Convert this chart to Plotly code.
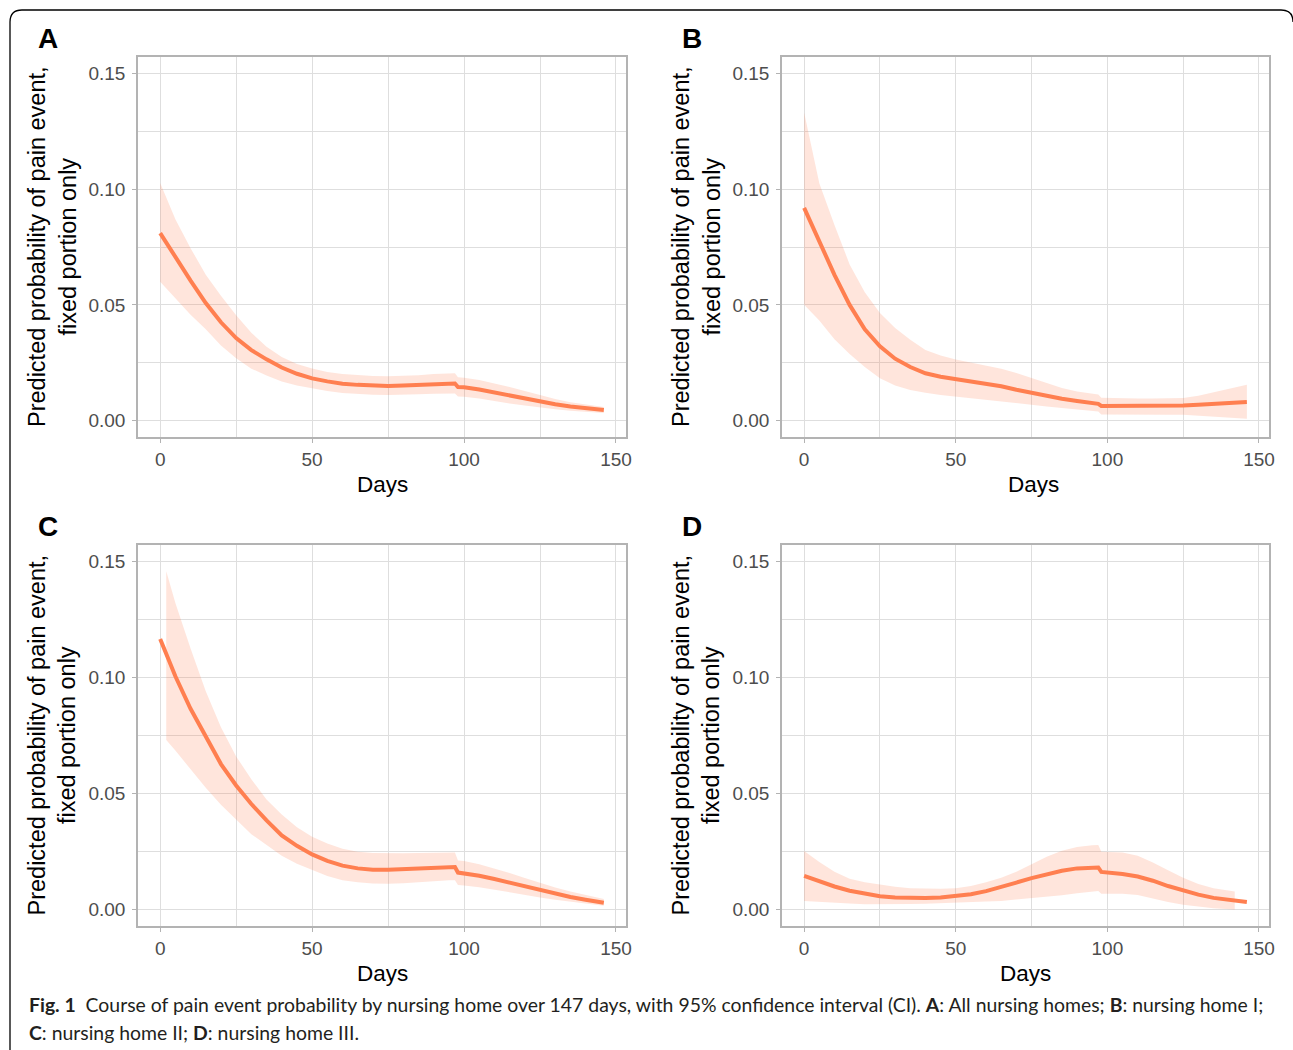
import plotly.graph_objects as go

W, H = 1293, 1050

# ---------------- data ----------------
days = [0, 5, 10, 15, 20, 25, 30, 35, 40, 45, 50, 55, 60, 65, 70, 75, 80, 85, 90, 95,
        97, 98, 100, 105, 110, 115, 120, 125, 130, 135, 140, 146]

fit_A = [0.081, 0.0705, 0.0605, 0.0508, 0.0425, 0.0357, 0.0305, 0.0265, 0.0230, 0.0203,
         0.0183, 0.0170, 0.0160, 0.0155, 0.0151, 0.0150, 0.0152, 0.0155, 0.0159, 0.0161,
         0.0161, 0.0146, 0.0145, 0.0135, 0.0122, 0.0108, 0.0095, 0.0082, 0.0071, 0.0062,
         0.0055, 0.0047]
upper_A = [0.1026, 0.087, 0.0745, 0.063, 0.054, 0.0455, 0.038, 0.032, 0.0275, 0.0245,
           0.0226, 0.021, 0.0202, 0.0197, 0.0193, 0.0192, 0.0193, 0.0197, 0.0202, 0.0205,
           0.0205, 0.0188, 0.0186, 0.0176, 0.0162, 0.0146, 0.0128, 0.011, 0.0094, 0.008,
           0.007, 0.006]
lower_A = [0.060, 0.053, 0.0458, 0.0395, 0.0325, 0.027, 0.0225, 0.0195, 0.017, 0.0152,
           0.014, 0.0128, 0.012, 0.0115, 0.0112, 0.0111, 0.0112, 0.0114, 0.0117, 0.0118,
           0.0118, 0.0105, 0.0104, 0.0096, 0.0086, 0.0075, 0.0066, 0.0057, 0.005, 0.0043,
           0.0038, 0.0034]

fit_B = [0.0919, 0.0775, 0.063, 0.050, 0.0395, 0.0321, 0.0268, 0.0232, 0.0205, 0.019,
         0.018, 0.0171, 0.0162, 0.0149, 0.0134, 0.012, 0.0107, 0.0095, 0.0085, 0.0077,
         0.0073, 0.0064, 0.0064, 0.0063, 0.0063, 0.0064, 0.0065, 0.0066, 0.0069, 0.0073,
         0.0077, 0.0081]
upper_B = [0.133, 0.1025, 0.0845, 0.0675, 0.0555, 0.0465, 0.040, 0.035, 0.0305, 0.0282,
           0.0264, 0.025, 0.0239, 0.0225, 0.0206, 0.0184, 0.0163, 0.0142, 0.0126, 0.0115,
           0.0113, 0.0099, 0.0098, 0.0097, 0.0096, 0.0096, 0.0097, 0.0098, 0.0108, 0.0122,
           0.0138, 0.0156]
lower_B = [0.0501, 0.0433, 0.0352, 0.0288, 0.0232, 0.0184, 0.0152, 0.0133, 0.0121, 0.0111,
           0.0102, 0.0095, 0.0089, 0.0083, 0.0076, 0.0069, 0.0062, 0.0055, 0.0048, 0.0043,
           0.0040, 0.0027, 0.0026, 0.0026, 0.0026, 0.0026, 0.0026, 0.0026, 0.0022, 0.0017,
           0.0013, 0.0009]

fit_C = [0.1165, 0.1005, 0.0865, 0.0742, 0.0627, 0.0535, 0.0455, 0.0385, 0.032, 0.0275,
         0.0238, 0.021, 0.019, 0.0178, 0.0172, 0.0172, 0.0175, 0.0179, 0.0182, 0.0184,
         0.0184, 0.0160, 0.0157, 0.0146, 0.0132, 0.0116, 0.0099, 0.0083, 0.0068, 0.0055,
         0.0043, 0.0030]
days_ci_C = [2, 5, 10, 15, 20, 25, 30, 35, 40, 45, 50, 55, 60, 65, 70, 75, 80, 85, 90, 95,
             97, 98, 100, 105, 110, 115, 120, 125, 130, 135, 140, 146]
upper_C = [0.1457, 0.132, 0.1125, 0.094, 0.0785, 0.066, 0.0562, 0.0475, 0.041, 0.0355,
           0.0314, 0.0285, 0.0262, 0.0250, 0.0244, 0.0242, 0.0243, 0.0244, 0.0245, 0.0246,
           0.0246, 0.0212, 0.021, 0.0196, 0.0178, 0.0158, 0.0137, 0.0116, 0.0096, 0.0078,
           0.0062, 0.0046]
lower_C = [0.0731, 0.0685, 0.0607, 0.0525, 0.0452, 0.0388, 0.0325, 0.028, 0.0232, 0.0198,
           0.017, 0.0145, 0.0127, 0.0118, 0.0113, 0.0112, 0.0114, 0.0118, 0.0123, 0.0127,
           0.0127, 0.0106, 0.0104, 0.0097, 0.0087, 0.0076, 0.0064, 0.0053, 0.0043, 0.0034,
           0.0026, 0.0017]

fit_D = [0.0146, 0.0122, 0.0100, 0.0082, 0.0068, 0.0058, 0.0053, 0.0051, 0.0051, 0.0053,
         0.0058, 0.0067, 0.0080, 0.0097, 0.0117, 0.0136, 0.0154, 0.0168, 0.0178, 0.0182,
         0.0182, 0.0163, 0.0161, 0.0154, 0.0143, 0.0125, 0.0102, 0.0082, 0.0065, 0.0051,
         0.0041, 0.0033]
days_ci_D = [0, 5, 10, 15, 20, 25, 30, 35, 40, 45, 50, 55, 60, 65, 70, 75, 80, 85, 90, 95,
             97, 98, 100, 105, 110, 115, 120, 125, 130, 135, 142]
upper_D = [0.0253, 0.0205, 0.0163, 0.0133, 0.0118, 0.0108, 0.0099, 0.0093, 0.0091, 0.0090,
           0.0092, 0.0102, 0.0118, 0.0138, 0.0163, 0.0195, 0.0228, 0.0254, 0.0270, 0.0278,
           0.0279, 0.0250, 0.0249, 0.0246, 0.0232, 0.0203, 0.0170, 0.0138, 0.0111, 0.0093,
           0.0079]
lower_D = [0.0038, 0.0035, 0.0031, 0.0027, 0.0024, 0.0023, 0.0024, 0.0025, 0.0026, 0.0027,
           0.0029, 0.0032, 0.0035, 0.0038, 0.0042, 0.0049, 0.0056, 0.0062, 0.0071, 0.0079,
           0.0081, 0.0069, 0.0069, 0.0069, 0.0063, 0.0048, 0.0033, 0.0021, 0.0012, 0.0006,
           0.0001]

x_ticks = [0, 50, 100, 150]
y_ticks = [0.00, 0.05, 0.10, 0.15]
panel_labels = ["A", "B", "C", "D"]
x_title = "Days"
y_title = "Predicted probability of pain event,<br>fixed portion only"
caption_1 = ("<b>Fig. 1</b>  Course of pain event probability by nursing home over 147 days, "
             "with 95% confidence interval (CI). <b>A</b>: All nursing homes; <b>B</b>: nursing home I;")
caption_2 = "<b>C</b>: nursing home II; <b>D</b>: nursing home III."

panels = [
    (days, fit_A, days, upper_A, lower_A),
    (days, fit_B, days, upper_B, lower_B),
    (days, fit_C, days_ci_C, upper_C, lower_C),
    (days, fit_D, days_ci_D, upper_D, lower_D),
]

# ---------------- layout geometry (pixels) ----------------
LINE = "#FF7F50"
FILL = "rgba(255,127,80,0.2)"
GRID = "#DEDEDE"
BORDER = "#B3B3B3"
TXT = "#4D4D4D"
FONT = "Liberation Sans, Arial, sans-serif"

# (left, right, top, bottom) of each plot panel in pixels
boxes = [(138, 626, 57, 437), (782, 1269, 57, 437),
         (138, 626, 545, 926), (782, 1269, 545, 926)]
letter_pos = [(48, 38), (692, 38), (48, 526), (692, 526)]
days_title_x = [382, 1033, 382, 1025]
ytitle_x = [52, 696, 52, 696]


def px(x):
    return x / W


def py(y):
    return 1 - y / H


fig = go.Figure()
layout = dict(
    template="none",
    width=W, height=H, margin=dict(l=0, r=0, t=0, b=0, pad=0, autoexpand=False),
    paper_bgcolor="white", plot_bgcolor="white", showlegend=False,
    font=dict(family=FONT, color=TXT),
)
annotations = []

for i, (dx, fit, dci, up, lo) in enumerate(panels):
    n = "" if i == 0 else str(i + 1)
    xa, ya = "x" + n, "y" + n
    fig.add_trace(go.Scatter(
        x=list(dci) + list(dci)[::-1], y=list(up) + list(lo)[::-1],
        fill="toself", fillcolor=FILL, line=dict(width=0), mode="lines",
        hoverinfo="skip", xaxis=xa, yaxis=ya))
    fig.add_trace(go.Scatter(
        x=dx, y=fit, mode="lines", line=dict(color=LINE, width=4),
        xaxis=xa, yaxis=ya))
    l, r, t, b = boxes[i]
    common = dict(
        showgrid=True, gridcolor=GRID, gridwidth=1.3, zeroline=False, automargin=False,
        showline=True, mirror=True, linecolor=BORDER, linewidth=1.5,
        ticks="outside", ticklen=4, tickwidth=1.3, tickcolor=BORDER,
        tickfont=dict(family=FONT, size=19, color=TXT),
    )
    layout["xaxis" + n] = dict(
        common, domain=[px(l), px(r)], range=[-7.3, 153.3],
        tickvals=x_ticks, ticktext=[str(v) for v in x_ticks],
        minor=dict(tickvals=[25, 75, 125], showgrid=True, gridcolor=GRID, gridwidth=0.7, ticks=""),
        anchor=ya,
    )
    layout["yaxis" + n] = dict(
        common, domain=[py(b), py(t)], range=[-0.007, 0.157],
        tickvals=y_ticks, ticktext=["%.2f" % v for v in y_ticks],
        minor=dict(tickvals=[0.025, 0.075, 0.125], showgrid=True, gridcolor=GRID, gridwidth=0.7, ticks=""),
        anchor=xa, ticklabelstandoff=3,
    )
    lx, ly = letter_pos[i]
    annotations.append(dict(
        text="<b>%s</b>" % panel_labels[i], x=px(lx), y=py(ly), xref="paper", yref="paper",
        xanchor="center", yanchor="middle", showarrow=False,
        font=dict(family=FONT, size=28, color="black")))
    annotations.append(dict(
        text=x_title, x=px(days_title_x[i]), y=py(b + 47), xref="paper", yref="paper",
        xanchor="center", yanchor="middle", showarrow=False,
        font=dict(family=FONT, size=22.5, color="black")))
    annotations.append(dict(
        text=y_title, x=px(ytitle_x[i]), y=py((t + b) / 2), xref="paper", yref="paper",
        xanchor="center", yanchor="middle", showarrow=False, textangle=-90,
        font=dict(family=FONT, size=23.5, color="black")))

CAP_FONT = "Lato, Open Sans, sans-serif"
annotations.append(dict(
    text=caption_1, x=px(27), y=py(1004), xref="paper", yref="paper",
    xanchor="left", yanchor="middle", showarrow=False, align="left",
    font=dict(family=CAP_FONT, size=19.4, color="#231F20")))
annotations.append(dict(
    text=caption_2, x=px(27), y=py(1032), xref="paper", yref="paper",
    xanchor="left", yanchor="middle", showarrow=False, align="left",
    font=dict(family=CAP_FONT, size=19.4, color="#231F20")))

layout["annotations"] = annotations

# rounded outer frame (top and left edges visible)
rad = 12
path = "M {x0} {y0} L {x0} {y1} Q {x0} {yt} {x2} {yt} L {x3} {yt} Q {xr} {yt} {xr} {y1}".format(
    x0=px(10), y0=py(1050), y1=py(10 + rad), yt=py(10), x2=px(10 + rad),
    x3=px(1293 - rad), xr=px(1293))
layout["shapes"] = [dict(type="path", path=path, xref="paper", yref="paper",
                         line=dict(color="black", width=1.3))]

fig.update_layout(**layout)
fig.write_html(
    "out.html",
    config={"displayModeBar": False},
    post_script="document.body.style.margin='0';document.body.style.padding='0';"
                "document.body.style.overflow='hidden';",
)
